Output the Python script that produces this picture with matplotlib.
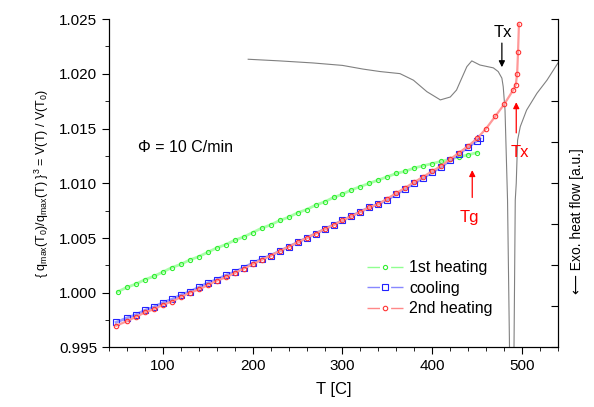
#!/usr/bin/env python3
"""Volume ratio from q_max vs temperature, with DSC trace on a twin axis."""
import matplotlib
matplotlib.use("Agg")
import matplotlib.pyplot as plt
from matplotlib.lines import Line2D
from matplotlib.ticker import MultipleLocator, FormatStrFormatter

plt.rcParams["font.family"] = ["Liberation Sans", "DejaVu Sans"]
plt.rcParams["mathtext.fontset"] = "custom"
plt.rcParams["mathtext.rm"] = "Liberation Sans"
plt.rcParams["mathtext.it"] = "Liberation Sans:italic"

# ── data ────────────────────────────────────────────────────────────────────
T_heat1 = [50, 60, 70, 80, 90, 100, 110, 120, 130, 140, 150, 160, 170, 180, 190,
           200, 210, 220, 230, 240, 250, 260, 270, 280, 290, 300, 310, 320, 330,
           340, 350, 360, 370, 380, 390, 400, 410, 420, 430, 440, 450]
v_heat1 = [1.0001, 1.0005, 1.0008, 1.0012, 1.0015, 1.0019, 1.0023, 1.0026, 1.0030,
           1.0033, 1.0037, 1.0041, 1.0044, 1.0048, 1.0051, 1.0055, 1.0059, 1.0062,
           1.0066, 1.0069, 1.0073, 1.0076, 1.0080, 1.0083, 1.0087, 1.0090, 1.0094,
           1.0097, 1.0100, 1.0103, 1.0106, 1.0109, 1.0111, 1.0114, 1.0116, 1.0118,
           1.0120, 1.0122, 1.0124, 1.0126, 1.0128]

T_cool = [48, 60, 70, 80, 90, 100, 110, 120, 130, 140, 150, 160, 170, 180, 190,
          200, 210, 220, 230, 240, 250, 260, 270, 280, 290, 300, 310, 320, 330,
          340, 350, 360, 370, 380, 390, 400, 410, 420, 430, 440, 450, 453]
v_cool = [0.9973, 0.9977, 0.9980, 0.9984, 0.9987, 0.9991, 0.9994, 0.9998, 1.0001,
          1.0005, 1.0009, 1.0012, 1.0016, 1.0019, 1.0023, 1.0027, 1.0031, 1.0034,
          1.0038, 1.0042, 1.0046, 1.0050, 1.0054, 1.0058, 1.0062, 1.0066, 1.0070,
          1.0074, 1.0078, 1.0081, 1.0085, 1.0090, 1.0095, 1.0100, 1.0105, 1.0110,
          1.0115, 1.0121, 1.0127, 1.0133, 1.0139, 1.0141]

T_heat2 = [48, 60, 70, 80, 90, 100, 110, 120, 130, 140, 150, 160, 170, 180, 190,
           200, 210, 220, 230, 240, 250, 260, 270, 280, 290, 300, 310, 320, 330,
           340, 350, 360, 370, 380, 390, 400, 410, 420, 430, 440, 450, 460, 470,
           480, 490, 493, 494.5, 495.5, 496.5]
v_heat2 = [0.9970, 0.9974, 0.9978, 0.9982, 0.9985, 0.9989, 0.9992, 0.9996, 1.0000,
           1.0003, 1.0007, 1.0011, 1.0014, 1.0018, 1.0022, 1.0026, 1.0030, 1.0034,
           1.0038, 1.0042, 1.0046, 1.0050, 1.0054, 1.0058, 1.0062, 1.0066, 1.0070,
           1.0074, 1.0078, 1.0081, 1.0086, 1.0091, 1.0096, 1.0101, 1.0106, 1.0111,
           1.0116, 1.0122, 1.0128, 1.0134, 1.0141, 1.0150, 1.0161, 1.0172, 1.0185,
           1.0190, 1.0200, 1.0220, 1.0245]

# DSC trace (arbitrary units, right axis)
T_dsc = [195, 230, 267, 300, 323, 342, 364, 379, 394, 409, 420, 427, 431, 438.5,
         444, 453, 468, 473.4, 477.5, 479, 481, 483.8, 486, 488.5, 491, 492.4,
         493.5, 495, 498, 505, 516.5, 527.7, 540]
q_dsc = [6.02, 5.98, 5.93, 5.87, 5.78, 5.72, 5.67, 5.51, 5.23, 5.03, 5.10, 5.27,
         5.47, 5.84, 5.98, 5.88, 5.81, 5.72, 5.56, 5.35, 4.78, 2.59, -1.0, -3.0,
         -1.0, 2.59, 3.00, 4.05, 4.38, 4.78, 5.19, 5.51, 5.93]

# annotation anchors (T, value): label position, arrow tail, arrow head
TX_BLACK = dict(label=(478.6, 1.0238), tail=(477.5, 1.0228), head=(477.5, 1.0206))
TX_RED = dict(label=(497.0, 1.0128), tail=(493.5, 1.0146), head=(493.5, 1.0174))
TG_RED = dict(label=(441.0, 1.0069), tail=(444.5, 1.0087), head=(444.5, 1.0112))

fig = plt.figure(figsize=(5.94, 4.07), dpi=100)
ax = fig.add_axes([0.1835, 0.1462, 0.7559, 0.8071])
ax2 = ax.twinx()

# DSC on twin axis (behind the data)
ax2.plot(T_dsc, q_dsc, color="#808080", lw=0.8)
ax2.set_ylim(-1.0, 7.0)
ax2.yaxis.set_major_locator(MultipleLocator(1))
ax2.tick_params(axis="y", direction="in", length=5, labelright=False)
ax.set_zorder(ax2.get_zorder() + 1)
ax.patch.set_visible(False)

ax.plot(T_heat1, v_heat1, color="#a8ffa8", lw=2.0, marker="o", ms=3.0,
        mfc="none", mec="#33ee33", mew=0.8)
ax.plot(T_cool, v_cool, color="#9999ff", lw=2.0, marker="s", ms=4.0,
        mfc="none", mec="#2222ff", mew=0.8)
ax.plot(T_heat2, v_heat2, color="#ff9999", lw=1.6, marker="o", ms=3.2,
        mfc="none", mec="#ff3333", mew=0.8)

ax.set_xlim(40, 540)
ax.set_ylim(0.995, 1.025)
ax.xaxis.set_major_locator(MultipleLocator(100))
ax.xaxis.set_minor_locator(MultipleLocator(20))
ax.yaxis.set_major_locator(MultipleLocator(0.005))
ax.yaxis.set_minor_locator(MultipleLocator(0.0025))
ax.yaxis.set_major_formatter(FormatStrFormatter("%.3f"))
ax.tick_params(which="major", direction="out", length=5, labelsize=11)
ax.tick_params(which="minor", direction="out", length=3)
for a in (ax, ax2):
    a.spines["top"].set_visible(False)

ax.set_xlabel("T [C]", fontsize=12, labelpad=6)
ax.set_ylabel(r"{ q$_{\mathrm{max}}$(T$_0$)/q$_{\mathrm{max}}$(T) }$^3$ = V(T) / V(T$_0$)",
              fontsize=9, labelpad=6)

fig.text(577 / 594, 1 - 221 / 407, "\u27f5 Exo. heat flow [a.u.]", rotation=90,
         ha="center", va="center", fontsize=10)

ax.text(72, 1.0133, "\u03a6 = 10 C/min", fontsize=11.5, va="center")

for spec, col in ((TX_BLACK, "black"), (TX_RED, "red"), (TG_RED, "red")):
    ax.annotate("", xy=spec["head"], xytext=spec["tail"],
                arrowprops=dict(arrowstyle="-|>", color=col, lw=0.9,
                                mutation_scale=9, shrinkA=0, shrinkB=0))
ax.text(*TX_BLACK["label"], "Tx", color="black", fontsize=12, ha="center", va="center")
ax.text(*TX_RED["label"], "Tx", color="red", fontsize=12, ha="center", va="center")
ax.text(*TG_RED["label"], "Tg", color="red", fontsize=12, ha="center", va="center")

handles = [
    Line2D([], [], color="#90ff90", lw=1, ls=(0, (9, 8)), marker="o", ms=3.0,
           mfc="none", mec="#33ee33", mew=0.8),
    Line2D([], [], color="#8888ff", lw=1, ls=(0, (9, 8)), marker="s", ms=4.0,
           mfc="none", mec="#2222ff", mew=0.8),
    Line2D([], [], color="#ff8888", lw=1, ls=(0, (9, 8)), marker="o", ms=3.2,
           mfc="none", mec="#ff3333", mew=0.8),
]
ax.legend(handles, ["1st heating", "cooling", "2nd heating"], loc="center left",
          bbox_to_anchor=(0.5746, 0.180), frameon=False, fontsize=11.5,
          handlelength=2.25, handletextpad=0.38, borderpad=0, borderaxespad=0,
          labelspacing=0.34, numpoints=1)

fig.savefig("out.png", dpi=100)
